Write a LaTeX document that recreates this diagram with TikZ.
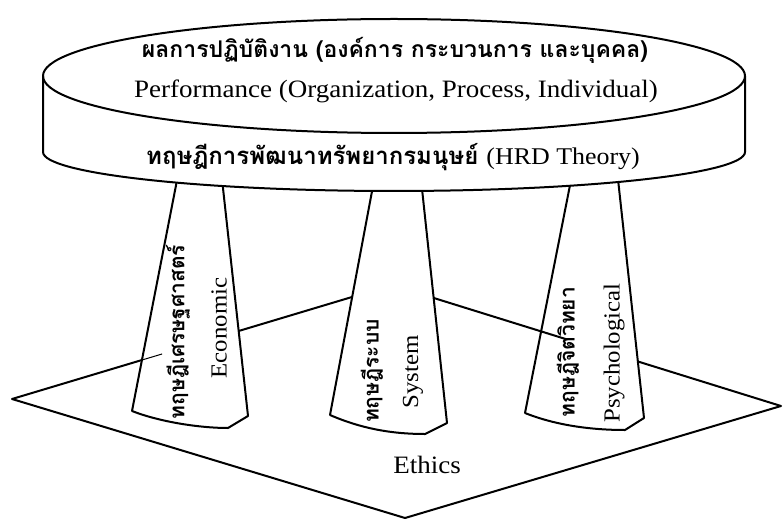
\documentclass[tikz,border=0pt]{standalone}
\usepackage{fontspec}
\setmainfont{Liberation Serif}[FakeStretch=1.08]
\newfontfamily\thaifont[Script=Thai]{Loma}
\usetikzlibrary{calc}

\tikzset{
  outline/.style={line width=2pt, line join=round, line cap=round},
  stub/.style={line width=1pt},
  en/.style={font=\fontsize{25}{28}\selectfont, inner sep=0pt},
  ensmall/.style={en, font=\fontsize{23}{26}\selectfont},
  th/.style={font=\thaifont\bfseries\fontsize{23}{27}\selectfont, inner sep=0pt},
  thsmall/.style={th, font=\thaifont\bfseries\fontsize{21}{25}\selectfont},
  pillar/.style={outline, fill=white},
}

\begin{document}
\begin{tikzpicture}[x=1pt, y=-1pt]
  \useasboundingbox (0,0) rectangle (783,521);

  % base: the ethics diamond
  \coordinate (dl) at (12,399);
  \coordinate (dt) at (392,285);
  \coordinate (dr) at (781,406);
  \coordinate (db) at (405,518);
  \draw[outline] (dl) -- (dt) -- (dr) -- (db) -- cycle;
  \node[en] (ethics) at (427,465) {Ethics};

  % three pillars
  \draw[pillar] (132,411) .. controls (160,422) and (200,428) .. (228,428)
     -- (248,416) -- (221,170) -- (179,170) -- cycle;
  \draw[pillar] (330,415) .. controls (360,428) and (390,434) .. (425,434)
     -- (447,423) -- (420,170) -- (376,170) -- cycle;
  \draw[pillar] (525,413) .. controls (555,425) and (590,430) .. (625,430)
     -- (644,418) -- (617,170) -- (573,170) -- cycle;

  % short pieces of the diamond edge running into the pillars
  \draw[stub] ($(dl)!0.342!(dt)$) -- ($(dl)!0.395!(dt)$);
  \draw[outline] ($(dt)!0.38!(dr)$) -- ($(dt)!0.45!(dr)$);

  % pillar labels
  \node[thsmall, rotate=90] (econth) at (178,332) {ทฤษฎีเศรษฐศาสตร์};
  \node[ensmall, rotate=90] (econ) at (219,328) {Economic};
  \node[thsmall, rotate=90] (systh) at (372,371) {ทฤษฎีระบบ};
  \node[ensmall, rotate=90] (sys) at (413,372) {System};
  \node[thsmall, rotate=90] (psyth) at (568,352) {ทฤษฎีจิตวิทยา};
  \node[ensmall, rotate=90] (psy) at (614,353) {Psychological};

  % the cylinder on top
  \fill[white] (43,76) -- (43,152)
     arc[start angle=180, end angle=360, x radius=351pt, y radius=39pt]
     -- (745,76)
     arc[start angle=0, end angle=180, x radius=351pt, y radius=57pt] -- cycle;
  \draw[outline] (394,76) ellipse [x radius=351pt, y radius=57pt];
  \draw[outline] (43,76) -- (43,152)
     arc[start angle=180, end angle=360, x radius=351pt, y radius=39pt]
     -- (745,76);

  \node[th] (perfth) at (395,50) {ผลการปฏิบัติงาน (องค์การ กระบวนการ และบุคคล)};
  \node[en] (perf) at (396,91) {Performance (Organization, Process, Individual)};
  \node[th, font=\thaifont\bfseries\fontsize{24}{28}\selectfont] (hrd) at (393,157)
     {ทฤษฎีการพัฒนาทรัพยากรมนุษย์ {\normalfont (HRD Theory)}};
\end{tikzpicture}
\end{document}
